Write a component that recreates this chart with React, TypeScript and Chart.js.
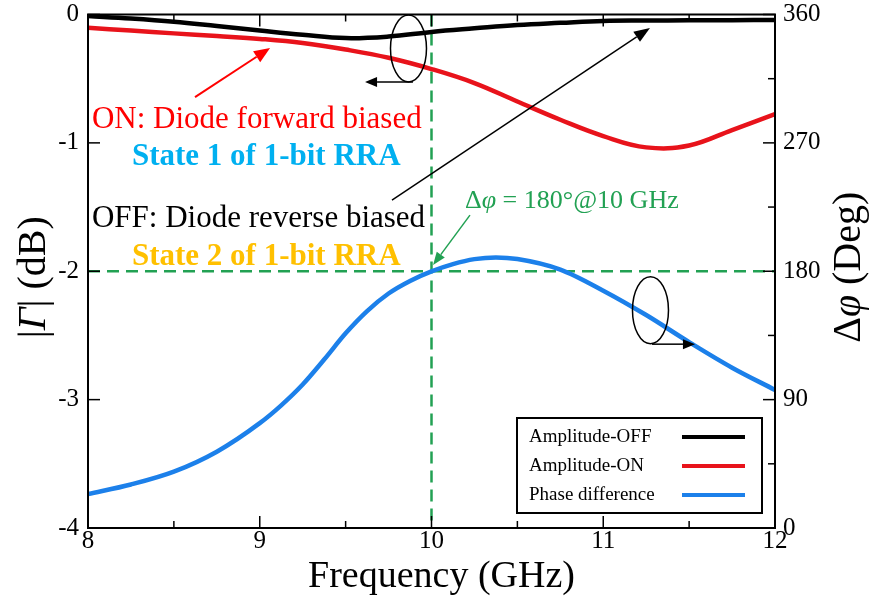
import React, { useEffect, useRef } from 'react';
import { Chart, registerables } from 'chart.js';

Chart.register(...registerables);

// ---------- data ----------
const ampFreqs = [8, 8.25, 8.5, 8.75, 9, 9.25, 9.5, 9.75, 10, 10.25, 10.5, 10.75, 11, 11.25, 11.5, 11.75, 12];
const ampOff = [-0.012, -0.031, -0.056, -0.09, -0.125, -0.158, -0.184, -0.172, -0.136, -0.108, -0.082, -0.065, -0.05, -0.047, -0.045, -0.044, -0.043];
const ampOn = [-0.103, -0.125, -0.147, -0.168, -0.19, -0.222, -0.273, -0.337, -0.425, -0.534, -0.678, -0.82, -0.947, -1.035, -1.02, -0.9, -0.776];

const phaseFreqs = [8, 8.25, 8.5, 8.75, 9, 9.125, 9.25, 9.375, 9.5, 9.625, 9.75, 9.875, 10, 10.125, 10.25, 10.375, 10.5, 10.75, 11, 11.25, 11.5, 11.75, 12];
const phaseDiff = [23.8, 30.5, 39.5, 53.5, 73.5, 86.0, 100.6, 118.1, 136.5, 152.1, 164.4, 173.2, 179.9, 185.0, 188.5, 189.7, 188.6, 181.2, 166.4, 149.3, 130.3, 112.4, 96.8];

const seriesLabels = ['Amplitude-OFF', 'Amplitude-ON', 'Phase difference'];
const seriesColors = ['#000000', '#E8131B', '#1C80EA'];

const markFreq = 10; // GHz
const markDb = -2; // dB (= 180 deg on right axis)
const markColor = '#22A153';

const xRange = [8, 12];
const yRange = [-4, 0];
const y2Range = [0, 360];

const xTitle = 'Frequency (GHz)';

// annotation anchors in data units (GHz, dB)
const noteTexts = [
  { f: 8.023, db: -0.885, parts: [{ t: 'ON: Diode forward biased', bold: false, italic: false }], color: '#FF0000' },
  { f: 8.256, db: -1.173, parts: [{ t: 'State 1 of 1-bit RRA', bold: true, italic: false }], color: '#00B0F0' },
  { f: 8.023, db: -1.654, parts: [{ t: 'OFF: Diode reverse biased', bold: false, italic: false }], color: '#000000' },
  { f: 8.256, db: -1.952, parts: [{ t: 'State 2 of 1-bit RRA', bold: true, italic: false }], color: '#FFC000' },
];
const phaseNote = { f: 10.195, db: -1.508, color: markColor };

const arrows = [
  { f1: 8.623, db1: -0.643, f2: 9.06, db2: -0.261, color: '#FF0000', w: 2, head: 16, hw: 13 },
  { f1: 9.77, db1: -1.446, f2: 11.272, db2: -0.105, color: '#000000', w: 1.5, head: 16, hw: 12 },
  { f1: 10.224, db1: -1.563, f2: 10.009, db2: -1.952, color: markColor, w: 1.5, head: 13, hw: 10 },
  { f1: 9.892, db1: -0.526, f2: 9.613, db2: -0.526, color: '#000000', w: 1.5, head: 12, hw: 10 },
  { f1: 11.284, db1: -2.568, f2: 11.534, db2: -2.568, color: '#000000', w: 1.5, head: 12, hw: 10 },
];
const ellipses = [
  { f: 9.866, db: -0.265 },
  { f: 11.275, db: -2.303 },
];

const SERIF = "'Liberation Serif', 'Times New Roman', serif";
Chart.defaults.font.family = SERIF;

function drawArrow(ctx: CanvasRenderingContext2D, x1: number, y1: number, x2: number, y2: number, color: string, w: number, head: number, hw: number) {
  const ang = Math.atan2(y2 - y1, x2 - x1);
  const bx = x2 - Math.cos(ang) * head;
  const by = y2 - Math.sin(ang) * head;
  ctx.strokeStyle = color;
  ctx.fillStyle = color;
  ctx.lineWidth = w;
  ctx.beginPath();
  ctx.moveTo(x1, y1);
  ctx.lineTo(bx, by);
  ctx.stroke();
  ctx.beginPath();
  ctx.moveTo(x2, y2);
  ctx.lineTo(bx + Math.sin(ang) * hw / 2, by - Math.cos(ang) * hw / 2);
  ctx.lineTo(bx - Math.sin(ang) * hw / 2, by + Math.cos(ang) * hw / 2);
  ctx.closePath();
  ctx.fill();
}

type Part = { t: string; bold?: boolean; italic?: boolean };
function drawParts(ctx: CanvasRenderingContext2D, parts: Part[], x: number, y: number, size: number, family: string) {
  let cx = x;
  for (const p of parts) {
    ctx.font = `${p.italic ? 'italic ' : ''}${p.bold ? 'bold ' : ''}${size}px ${family}`;
    ctx.fillText(p.t, cx, y);
    cx += ctx.measureText(p.t).width;
  }
  return cx - x;
}
function measureParts(ctx: CanvasRenderingContext2D, parts: Part[], size: number, family: string) {
  let w = 0;
  for (const p of parts) {
    ctx.font = `${p.italic ? 'italic ' : ''}${p.bold ? 'bold ' : ''}${size}px ${family}`;
    w += ctx.measureText(p.t).width;
  }
  return w;
}

const decorPlugin = {
  id: 'decor',
  afterDraw(chart: any) {
    const { ctx, chartArea: a, scales } = chart;
    const sx = scales.x, sy = scales.y, sy2 = scales.y2;
    const px = (f: number) => sx.getPixelForValue(f);
    const py = (d: number) => sy.getPixelForValue(d);
    ctx.save();

    // frame
    ctx.strokeStyle = '#000';
    ctx.lineWidth = 2;
    ctx.strokeRect(a.left, a.top, a.right - a.left, a.bottom - a.top);

    const seg = (x1: number, y1: number, x2: number, y2: number) => {
      ctx.beginPath();
      ctx.moveTo(x1, y1);
      ctx.lineTo(x2, y2);
      ctx.stroke();
    };
    ctx.lineWidth = 1.5;
    sx.ticks.forEach((t: any) => {
      const x = sx.getPixelForValue(t.value);
      const len = Number.isInteger(t.value) ? 12 : 7;
      seg(x, a.bottom, x, a.bottom - len);
      seg(x, a.top, x, a.top + len);
    });
    sy.ticks.forEach((t: any) => {
      const y = sy.getPixelForValue(t.value);
      seg(a.left, y, a.left + 12, y);
    });
    sy2.ticks.forEach((t: any) => {
      const y = sy2.getPixelForValue(t.value);
      const len = t.value % 90 === 0 ? 12 : 7;
      seg(a.right, y, a.right - len, y);
    });

    // ellipses (axis indicators)
    ctx.strokeStyle = '#000';
    ctx.lineWidth = 1.5;
    ellipses.forEach((e) => {
      ctx.beginPath();
      ctx.ellipse(px(e.f), py(e.db), 18, 33.5, 0, 0, Math.PI * 2);
      ctx.stroke();
    });

    // arrows
    arrows.forEach((r) => drawArrow(ctx, px(r.f1), py(r.db1), px(r.f2), py(r.db2), r.color, r.w, r.head, r.hw));

    // annotation texts
    ctx.textBaseline = 'alphabetic';
    ctx.textAlign = 'left';
    noteTexts.forEach((n) => {
      ctx.fillStyle = n.color;
      drawParts(ctx, n.parts, px(n.f), py(n.db), 31, SERIF);
    });
    ctx.fillStyle = phaseNote.color;
    drawParts(
      ctx,
      [
        { t: 'Δ' },
        { t: 'φ', italic: true },
        { t: ' = 180°@10 GHz' },
      ],
      px(phaseNote.f),
      py(phaseNote.db),
      26,
      SERIF
    );

    // legend
    const lw = 245, lh = 95;
    const lx = a.right - 13 - lw;
    const ly = a.bottom - 15 - lh;
    ctx.fillStyle = '#fff';
    ctx.fillRect(lx, ly, lw, lh);
    ctx.strokeStyle = '#000';
    ctx.lineWidth = 2;
    ctx.strokeRect(lx, ly, lw, lh);
    ctx.textBaseline = 'middle';
    ctx.font = `19px ${SERIF}`;
    chart.data.datasets.slice(0, 3).forEach((ds: any, i: number) => {
      const yy = ly + 19 + i * 29;
      ctx.fillStyle = '#000';
      ctx.fillText(ds.label, lx + 12, yy);
      ctx.strokeStyle = ds.borderColor;
      ctx.lineWidth = 4;
      seg(lx + 165, yy, lx + 228, yy);
    });

    // axis titles
    ctx.fillStyle = '#000';
    ctx.textBaseline = 'alphabetic';
    ctx.textAlign = 'center';
    ctx.font = `38px ${SERIF}`;
    ctx.fillText(xTitle, (a.left + a.right) / 2 + 10, a.bottom + 59);

    ctx.textAlign = 'left';
    const leftParts: Part[] = [{ t: '|' }, { t: 'Γ', italic: true }, { t: '| (dB)' }];
    const wl = measureParts(ctx, leftParts, 40, SERIF);
    ctx.save();
    ctx.translate(45, (a.top + a.bottom) / 2 + 6);
    ctx.rotate(-Math.PI / 2);
    drawParts(ctx, leftParts, -wl / 2, 0, 40, SERIF);
    ctx.restore();

    const rightParts: Part[] = [{ t: 'Δ' }, { t: 'φ', italic: true }, { t: ' (Deg)' }];
    const wr = measureParts(ctx, rightParts, 40, SERIF);
    ctx.save();
    ctx.translate(860, (a.top + a.bottom) / 2 - 4);
    ctx.rotate(-Math.PI / 2);
    drawParts(ctx, rightParts, -wr / 2, 0, 40, SERIF);
    ctx.restore();

    ctx.restore();
  },
};

export default function App() {
  const ref = useRef<HTMLCanvasElement | null>(null);
  useEffect(() => {
    if (!ref.current) return;
    const pts = (xs: number[], ys: number[]) => xs.map((f, i) => ({ x: f, y: ys[i] }));
    const tickFont = { family: SERIF, size: 25, lineHeight: 1 };
    const ampLine = { borderWidth: 4.5, pointRadius: 0, tension: 0.4, fill: false };
    const phaseLine = { borderWidth: 4.5, pointRadius: 0, cubicInterpolationMode: 'monotone', fill: false };
    const chart = new Chart(ref.current, {
      type: 'line',
      data: {
        datasets: [
          { label: seriesLabels[0], data: pts(ampFreqs, ampOff), borderColor: seriesColors[0], yAxisID: 'y', ...ampLine },
          { label: seriesLabels[1], data: pts(ampFreqs, ampOn), borderColor: seriesColors[1], yAxisID: 'y', ...ampLine },
          { label: seriesLabels[2], data: pts(phaseFreqs, phaseDiff), borderColor: seriesColors[2], yAxisID: 'y2', ...phaseLine },
          { label: 'v', data: [{ x: markFreq, y: yRange[1] }, { x: markFreq, y: yRange[0] }], borderColor: markColor, yAxisID: 'y', borderWidth: 2.5, borderDash: [12, 7], pointRadius: 0, tension: 0, fill: false },
          { label: 'h', data: [{ x: xRange[0], y: markDb }, { x: xRange[1], y: markDb }], borderColor: markColor, yAxisID: 'y', borderWidth: 2.5, borderDash: [12, 7], pointRadius: 0, tension: 0, fill: false },
        ],
      },
      options: {
        animation: false,
        responsive: false,
        devicePixelRatio: 1,
        layout: { padding: { top: 14.5, left: 0, right: 0, bottom: 0 } },
        plugins: { legend: { display: false }, tooltip: { enabled: false } },
        scales: {
          x: {
            type: 'linear',
            position: 'bottom',
            min: xRange[0],
            max: xRange[1],
            ticks: {
              stepSize: 0.5,
              autoSkip: false,
              maxRotation: 0,
              padding: 1,
              color: '#000',
              font: tickFont,
              callback: (v: any) => (Number.isInteger(v) ? String(v) : ''),
            },
            grid: { display: false, drawTicks: false },
            border: { display: false },
            afterFit: (s: any) => { s.height = 70; s.paddingLeft = 0; s.paddingRight = 0; },
          },
          y: {
            type: 'linear',
            position: 'left',
            min: yRange[0],
            max: yRange[1],
            ticks: { stepSize: 1, padding: 9, color: '#000', font: tickFont, callback: (v: any) => String(v) },
            grid: { display: false, drawTicks: false },
            border: { display: false },
            afterFit: (s: any) => { s.width = 88; s.paddingTop = 0; s.paddingBottom = 0; },
          },
          y2: {
            type: 'linear',
            position: 'right',
            min: y2Range[0],
            max: y2Range[1],
            ticks: {
              stepSize: 45,
              padding: 8,
              color: '#000',
              font: tickFont,
              callback: (v: any) => (v % 90 === 0 ? String(v) : ''),
            },
            grid: { display: false, drawTicks: false },
            border: { display: false },
            afterFit: (s: any) => { s.width = 96; s.paddingTop = 0; s.paddingBottom = 0; },
          },
        },
      },
      plugins: [decorPlugin],
    } as any);
    return () => chart.destroy();
  }, []);
  return (
    <div style={{ position: 'absolute', left: 0, top: 0, width: 871, height: 598, background: '#fff' }}>
      <canvas ref={ref} width={871} height={598} style={{ display: 'block' }} />
    </div>
  );
}
